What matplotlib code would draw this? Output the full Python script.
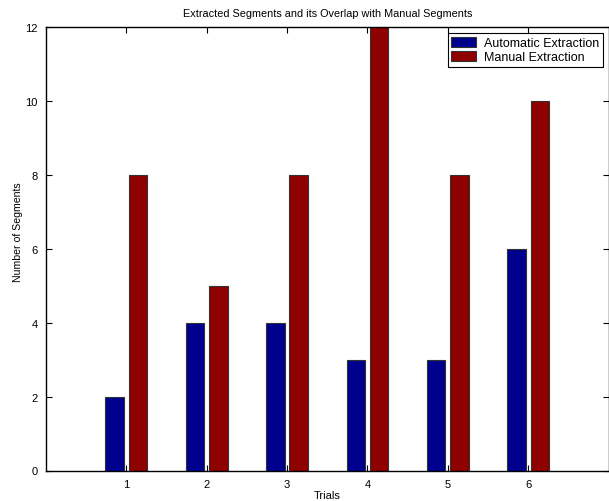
import matplotlib
matplotlib.use("Agg")
import matplotlib.pyplot as plt
import numpy as np

# data
trials = [1, 2, 3, 4, 5, 6]
automatic = [2, 4, 4, 3, 3, 6]
manual = [8, 5, 8, 12, 8, 10]

plt.rcParams['font.family'] = ['Liberation Sans', 'DejaVu Sans']
plt.rcParams['font.size'] = 8

fig = plt.figure(figsize=(6.09, 5.02), dpi=100)
ax = fig.add_axes([46 / 609, 30.5 / 502, 562.5 / 609, 443.5 / 502])

x = np.array(trials)
w = 0.23
ax.bar(x - 0.145, automatic, w, color=(0, 0, 0.56), edgecolor='#333333', linewidth=0.8,
       label='Automatic Extraction')
ax.bar(x + 0.145, manual, w, color=(0.56, 0, 0), edgecolor='#333333', linewidth=0.8,
       label='Manual Extraction')

ax.set_xlim(0, 7)
ax.set_ylim(0, 12)
ax.set_xticks(trials)
ax.set_yticks(range(0, 13, 2))
ax.tick_params(direction='in', top=True, right=True, length=4, width=0.8,
               labelsize=8, pad=6)
for s in ax.spines.values():
    s.set_linewidth(1.0)

ax.set_title('Extracted Segments and its Overlap with Manual Segments', fontsize=7.8, pad=8)
ax.set_xlabel('Trials', fontsize=8, labelpad=1)
ax.set_ylabel('Number of Segments', fontsize=7.6)
ax.yaxis.set_label_coords(-0.041, 0.54)

leg = ax.legend(loc='upper right', bbox_to_anchor=(0.990, 0.986), borderaxespad=0,
                fancybox=False, edgecolor='black', framealpha=1, fontsize=9,
                handlelength=2.0, handleheight=0.9, borderpad=0.3, labelspacing=0.1,
                handletextpad=0.6)
leg.get_frame().set_linewidth(0.8)

fig.savefig('out.png', dpi=100)
